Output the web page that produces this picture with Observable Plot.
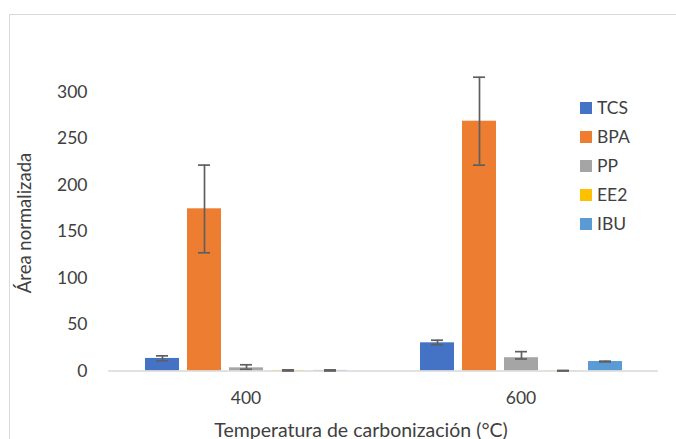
<!DOCTYPE html>
<html>
<head>
<meta charset="utf-8">
<script src="https://cdn.jsdelivr.net/npm/d3@7"></script>
<script src="https://cdn.jsdelivr.net/npm/@observablehq/plot@0.6"></script>
<style>
  html, body { margin: 0; padding: 0; background: #fff; overflow: hidden; }
  #wrap { position: relative; width: 676px; height: 439px; overflow: hidden; font-family: Lato, sans-serif; color: #404040; }
  #border { position: absolute; left: 9px; top: 14px; width: 720px; height: 500px; border: 1.5px solid #d9d9d9; box-sizing: border-box; }
  #chart { position: absolute; left: 0; top: 0; }
  .title { position: absolute; white-space: nowrap; }
  #legend { position: absolute; left: 580px; top: 0; }
  .item { position: absolute; left: 0; white-space: nowrap; font-size: 17.5px; height: 20px; line-height: 20px; }
  .sw { position: absolute; left: 0; top: 4px; width: 12px; height: 12px; }
  .lab { position: absolute; left: 17px; top: 0; }
</style>
</head>
<body>
<div id="wrap">
  <div id="border"></div>
  <div id="chart"></div>
  <div id="legend"></div>
</div>
<script>
const temps = ["400", "600"];
const compounds = ["TCS", "BPA", "PP", "EE2", "IBU"];
const colors = ["#4472C4", "#ED7D31", "#A5A5A5", "#FFC000", "#5B9BD5"];
const values400 = [13.5, 174.4, 3.4, 0.6, 0.6];
const values600 = [30.3, 268.6, 14.3, 0.3, 10.2];
const errPlus400 = [2.8, 47.0, 3.3, 0.6, 0.6];
const errMinus400 = [2.6, 47.3, 1.5, 0.6, 0.6];
const errPlus600 = [2.8, 47.3, 6.5, 0.3, 0.4];
const errMinus600 = [2.0, 47.3, 1.4, 0.3, 0.4];
const yTicks = [0, 50, 100, 150, 200, 250, 300];
const yTitle = "Área normalizada";
const xTitle = "Temperatura de carbonización (°C)";

const series = {
  "400": {v: values400, p: errPlus400, m: errMinus400},
  "600": {v: values600, p: errPlus600, m: errMinus600}
};
const data = [];
for (const t of temps) {
  compounds.forEach((c, j) => {
    data.push({temp: t, compound: c, value: series[t].v[j], hi: series[t].v[j] + series[t].p[j], lo: series[t].v[j] - series[t].m[j]});
  });
}

const chart = Plot.plot({
  width: 676,
  height: 439,
  marginLeft: 107,
  marginRight: 18,
  marginTop: 45,
  marginBottom: 68.5,
  style: {fontFamily: "Lato, sans-serif", fontSize: "17px", color: "#404040", background: "transparent"},
  fx: {domain: temps, padding: 0, label: null},
  x: {domain: compounds, paddingInner: 0.2, paddingOuter: 0.856, axis: null},
  y: {domain: [0, 350], label: null},
  color: {domain: compounds, range: colors},
  marks: [
    Plot.axisY({ticks: yTicks, tickSize: 0, tickPadding: 21, label: null, fontSize: 17.5}),
    Plot.axisFx({anchor: "bottom", tickSize: 0, tickPadding: 21, label: null, fontSize: 17.5}),
    Plot.barY(data, {fx: "temp", x: "compound", y: "value", fill: "compound"}),
    Plot.ruleY([0], {stroke: "#d9d9d9", strokeWidth: 1.5}),
    Plot.ruleX(data, {fx: "temp", x: "compound", y1: "lo", y2: "hi", stroke: "#5f5f5f", strokeWidth: 1.7}),
    Plot.tickY(data, {fx: "temp", x: "compound", y: "hi", stroke: "#5f5f5f", strokeWidth: 1.7, insetLeft: 11, insetRight: 11}),
    Plot.tickY(data, {fx: "temp", x: "compound", y: "lo", stroke: "#5f5f5f", strokeWidth: 1.7, insetLeft: 11, insetRight: 11})
  ]
});
document.getElementById("chart").appendChild(chart);

const wrap = document.getElementById("wrap");
const xt = document.createElement("div");
xt.className = "title";
xt.textContent = xTitle;
xt.style.fontSize = "19.5px";
xt.style.left = "361px";
xt.style.top = "429px";
xt.style.transform = "translate(-50%, -50%)";
wrap.appendChild(xt);

const yt = document.createElement("div");
yt.className = "title";
yt.textContent = yTitle;
yt.style.fontSize = "18.5px";
yt.style.left = "24px";
yt.style.top = "223px";
yt.style.transform = "translate(-50%, -50%) rotate(-90deg)";
wrap.appendChild(yt);

const legend = document.getElementById("legend");
compounds.forEach((c, i) => {
  const it = document.createElement("div");
  it.className = "item";
  it.style.top = (108.3 + i * 28.8 - 10) + "px";
  const sw = document.createElement("div");
  sw.className = "sw";
  sw.style.background = colors[i];
  const lab = document.createElement("div");
  lab.className = "lab";
  lab.textContent = c;
  it.appendChild(sw);
  it.appendChild(lab);
  legend.appendChild(it);
});
</script>
</body>
</html>
